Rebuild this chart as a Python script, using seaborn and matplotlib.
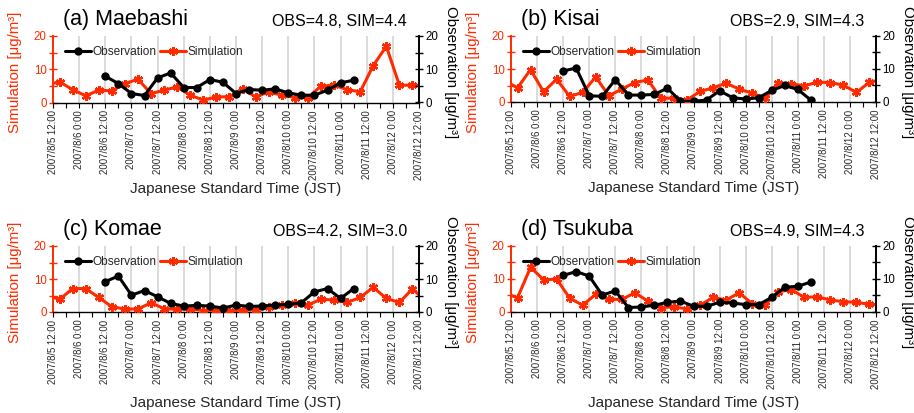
import numpy as np
import pandas as pd
import matplotlib
matplotlib.use("Agg")
import matplotlib.pyplot as plt
from matplotlib.ticker import MultipleLocator
import seaborn as sns

sns.set_theme(style="white")
plt.rcParams["font.family"] = ["Liberation Sans", "DejaVu Sans"]

# ---------------- data ----------------
tick_labels = ["2007/8/5 12:00", "2007/8/6 0:00", "2007/8/6 12:00", "2007/8/7 0:00",
               "2007/8/7 12:00", "2007/8/8 0:00", "2007/8/8 12:00", "2007/8/9 0:00",
               "2007/8/9 12:00", "2007/8/10 0:00", "2007/8/10 12:00", "2007/8/11 0:00",
               "2007/8/11 12:00", "2007/8/12 0:00", "2007/8/12 12:00"]

stations = ["(a) Maebashi", "(b) Kisai", "(c) Komae", "(d) Tsukuba"]
stats = ["OBS=4.8, SIM=4.4", "OBS=2.9, SIM=4.3", "OBS=4.2, SIM=3.0", "OBS=4.9, SIM=4.3"]

# hours after 2007/8/5 12:00 (simulation is 6-hourly, first/last value just outside the axis)
sim_hours = list(range(-3, 172, 6))
obs_hours = list(range(24, 139, 6))

sim_a = [5.3, 6.2, 3.9, 2.0, 3.7, 3.5, 5.7, 7.0, 2.7, 3.7, 4.7,
         2.2, 0.7, 1.7, 1.7, 4.2, 1.7, 3.2, 2.2, 1.5, 1.5,
         4.9, 5.2, 3.9, 3.2, 11.1, 16.9, 5.2, 5.2, 5.2]
obs_a = [7.9, 5.7, 2.7, 2.1, 7.4, 8.9, 4.5, 4.5, 6.9, 6.1,
         2.7, 3.9, 3.7, 4.1, 2.9, 2.2, 2.2, 3.7, 5.9, 6.7]

sim_b = [6.5, 4.3, 9.8, 3.1, 6.9, 1.7, 2.9, 7.6, 1.9, 3.9, 5.9,
         6.7, 1.1, 1.2, 0.6, 3.2, 4.3, 5.7, 3.9, 2.7, 1.1,
         5.7, 5.5, 4.9, 6.0, 5.9, 5.1, 2.9, 6.0, 6.8]
obs_b = [9.4, 10.3, 1.9, 1.7, 6.8, 2.1, 2.1, 2.3, 4.2, 0.2,
         0.2, 0.6, 3.4, 1.3, 0.9, 1.3, 3.5, 5.0, 3.8, 0.6]

sim_c = [5.1, 3.8, 7.1, 7.1, 4.4, 1.6, 0.9, 0.9, 2.8, 1.0, 0.8,
         1.0, 0.4, 0.6, 0.3, 0.6, 0.6, 1.4, 2.1, 2.8, 2.1,
         3.9, 3.6, 2.9, 4.4, 7.5, 4.1, 2.9, 7.0, 3.4]
obs_c = [9.2, 10.9, 5.1, 6.5, 4.6, 2.6, 1.8, 2.0, 1.8, 1.2,
         2.1, 1.7, 1.8, 2.1, 2.3, 2.8, 6.1, 7.1, 4.1, 7.1]

sim_d = [5.6, 4.2, 13.5, 9.7, 9.9, 4.1, 1.9, 5.3, 3.7, 3.7, 5.7,
         3.2, 1.2, 1.4, 0.8, 1.9, 4.3, 3.5, 5.7, 2.4, 2.1,
         6.0, 6.7, 4.3, 4.5, 3.5, 3.0, 2.8, 2.2, 2.0]
obs_d = [11.0, 12.2, 10.8, 5.0, 6.3, 1.2, 1.4, 1.9, 2.8, 3.2,
         1.6, 1.6, 2.8, 2.6, 2.1, 2.1, 4.3, 7.4, 7.7, 9.0]

sims = [sim_a, sim_b, sim_c, sim_d]
obss = [obs_a, obs_b, obs_c, obs_d]

# ---------------- style ----------------
RED = "#ff2a00"
W, H = 914, 413
fig = plt.figure(figsize=(W / 100, H / 100), dpi=100)

# panel boxes in pixels: left, top, right, bottom
boxes = [(53, 36, 419, 102.5), (511, 36, 876, 102), (53, 246, 419, 312), (511, 246, 876, 311.5)]
xlabel_off = [86, 86, 91, 91]

for k in range(4):
    l, t, r, b = boxes[k]
    ax = fig.add_axes([l / W, 1 - b / H, (r - l) / W, (b - t) / H])
    ax2 = ax.twinx()

    ax.set_xlim(0, 168)
    ax.set_ylim(0, 20)
    ax2.set_ylim(0, 20)

    ax.grid(axis="x", which="major", color="#d4d4d4", lw=1.2, zorder=0)

    sim_df = pd.DataFrame({"hour": sim_hours, "val": sims[k]})
    obs_df = pd.DataFrame({"hour": obs_hours, "val": obss[k]})

    sns.lineplot(data=sim_df, x="hour", y="val", ax=ax, color=RED, lw=2.2,
                 marker=(6, 2, 0), markersize=6.5, markeredgewidth=1.7,
                 markeredgecolor=RED, label="Simulation", legend=False, zorder=3)
    sns.lineplot(data=obs_df, x="hour", y="val", ax=ax2, color="black", lw=2.2,
                 marker="o", markersize=6, markeredgewidth=0,
                 markerfacecolor="black", label="Observation", legend=False, zorder=4)

    # x axis
    ax.set_xticks(np.arange(0, 169, 12))
    ax.set_xticklabels(tick_labels, rotation=90, fontsize=6.9)
    ax.xaxis.set_minor_locator(MultipleLocator(6))
    ax.tick_params(axis="x", which="both", direction="out", length=3.5, width=0.8,
                   color="black", pad=2, bottom=True)
    ax.set_xlabel("")
    ax.set_ylabel("")
    ax2.set_ylabel("")

    # y axes
    for a, c, side in [(ax, RED, "left"), (ax2, "black", "right")]:
        a.set_yticks([0, 10, 20])
        a.yaxis.set_minor_locator(MultipleLocator(5))
        a.tick_params(axis="y", which="both", direction="inout", length=6, width=1,
                      colors=c, labelsize=8.3, pad=1.5,
                      left=(side == "left"), right=(side == "right"))
        a.tick_params(axis="y", labelcolor=c)

    for s in ["top", "right"]:
        ax.spines[s].set_visible(False)
    for s in ["top", "left", "bottom"]:
        ax2.spines[s].set_visible(False)
    ax.spines["left"].set_color(RED)
    ax.spines["left"].set_linewidth(1.4)
    ax.spines["bottom"].set_color("black")
    ax.spines["bottom"].set_linewidth(1.0)
    ax2.spines["right"].set_color("black")
    ax2.spines["right"].set_linewidth(1.4)

    pw, ph = r - l, b - t
    ax.text(10 / pw, 1 + 16 / ph, stations[k], transform=ax.transAxes,
            fontsize=15.5, ha="left", va="center", color="black")
    ax.text(1 - 12 / pw, 1 + 14 / ph, stats[k], transform=ax.transAxes,
            fontsize=11.5, ha="right", va="center", color="black")

    ax.text(-38 / pw, 0.45, "Simulation [\u03bcg/m\u00b3]", transform=ax.transAxes,
            rotation=90, fontsize=10.8, color=RED, ha="center", va="center")
    ax2.text(1 + 32 / pw, 0.45, "Observation [\u03bcg/m\u00b3]", transform=ax.transAxes,
             rotation=270, fontsize=10.8, color="black", ha="center", va="center")
    ax.text(0.5, -xlabel_off[k] / ph, "Japanese Standard Time (JST)",
            transform=ax.transAxes, fontsize=11, ha="center", va="center")

    h1, l1 = ax2.get_legend_handles_labels()
    h2, l2 = ax.get_legend_handles_labels()
    leg = ax2.legend(h1 + h2, l1 + l2, loc="center left",
                     bbox_to_anchor=(12 / pw, 1 - 16 / ph), ncol=2, frameon=False,
                     fontsize=8.6, handlelength=2.2, handletextpad=0.1,
                     columnspacing=0.3, borderpad=0, borderaxespad=0)

fig.savefig("out.png", dpi=100)
